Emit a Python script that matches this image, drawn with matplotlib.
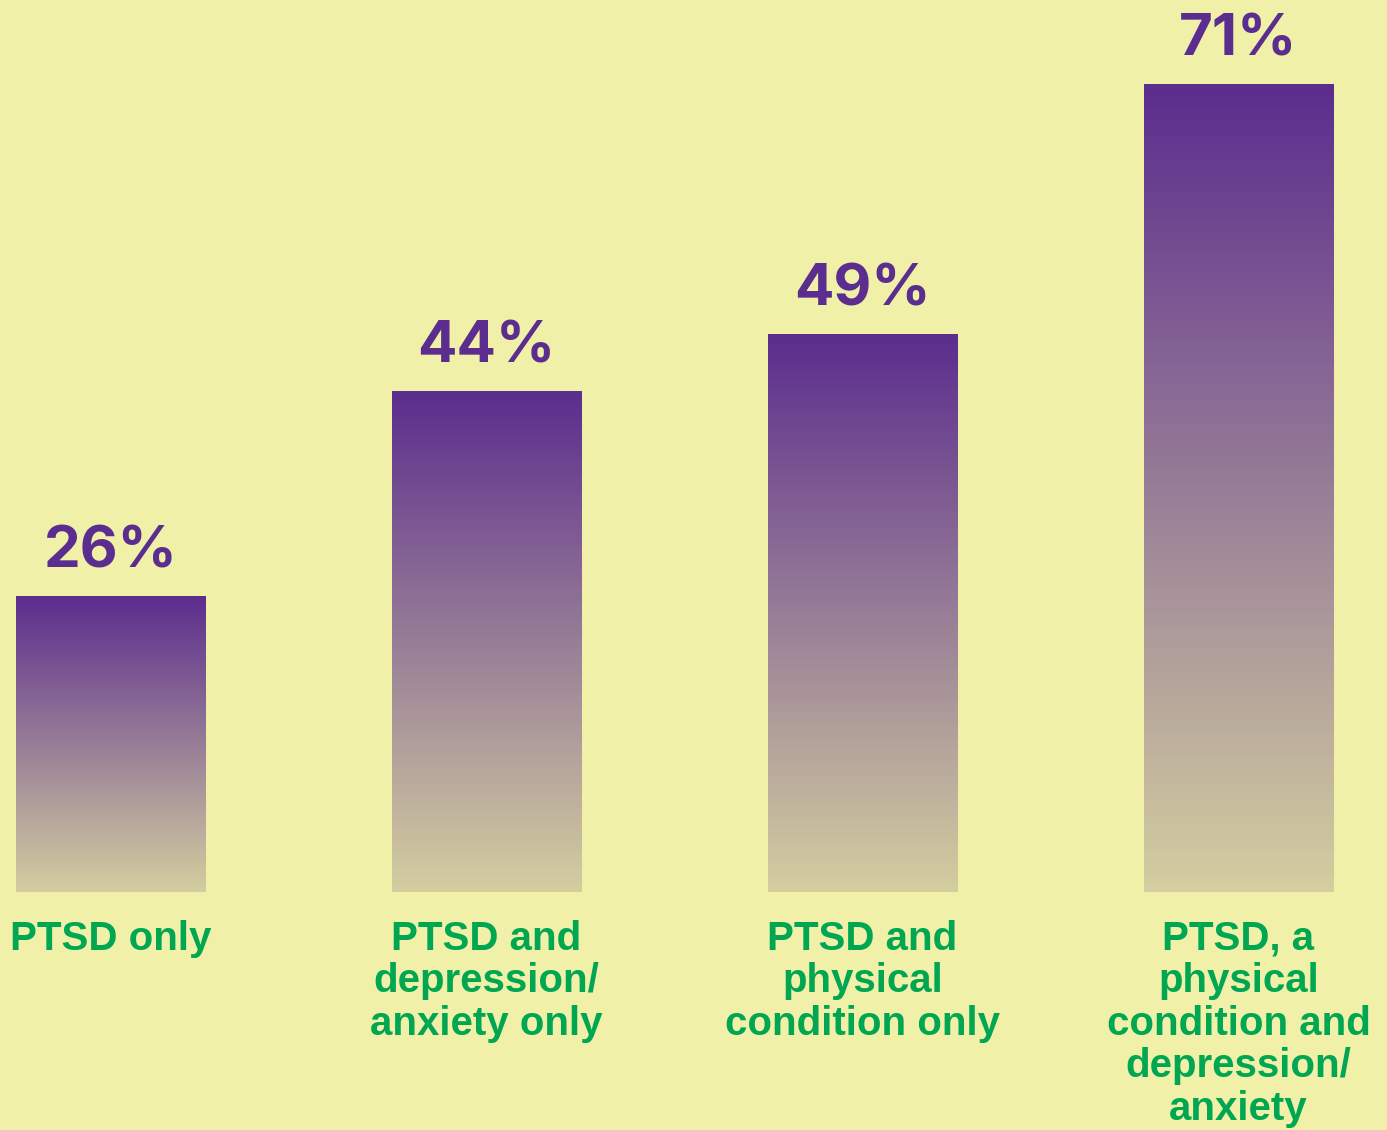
import numpy as np
import matplotlib
matplotlib.use("Agg")
import matplotlib.pyplot as plt
from matplotlib.colors import LinearSegmentedColormap

# data
categories = [
    "PTSD only",
    "PTSD and\ndepression/\nanxiety only",
    "PTSD and\nphysical\ncondition only",
    "PTSD, a\nphysical\ncondition and\ndepression/\nanxiety",
]
values = [26, 44, 49, 71]

BG = "#f0f0a8"
PURPLE = "#5b2d8e"
BEIGE = "#d4cea0"
GREEN = "#00a651"

plt.rcParams['font.family'] = ['Liberation Sans', 'DejaVu Sans']

fig = plt.figure(figsize=(13.87, 11.30), dpi=100, facecolor=BG)
ax = fig.add_axes([0, 0, 1, 1])
ax.set_facecolor(BG)

cmap = LinearSegmentedColormap.from_list("bar_grad", [BEIGE, PURPLE])
grad = np.linspace(0, 1, 256).reshape(-1, 1)

width = 0.503
x = np.arange(len(values))
for xi, v in zip(x, values):
    ax.imshow(grad, extent=[xi - width / 2, xi + width / 2, 0, v],
              origin="lower", cmap=cmap, aspect="auto", interpolation="bicubic", zorder=2)
    ax.annotate(f"{v}%", (xi, v), xytext=(0, 21), textcoords="offset points",
                ha="center", va="baseline", fontsize=42, fontweight="bold", color=PURPLE,
                family=['Inter', 'DejaVu Sans'])

for xi, lab in zip(x, categories):
    ax.annotate(lab, (xi, 0), xytext=(0, -20), textcoords="offset points",
                ha="center", va="top", fontsize=29, fontweight="bold", color=GREEN,
                linespacing=1.15)

ax.set_xlim(-0.294, 3.395)
ax.set_ylim(-20.9, 78.4)
ax.axis("off")

fig.savefig("out.png", dpi=100, facecolor=BG)
